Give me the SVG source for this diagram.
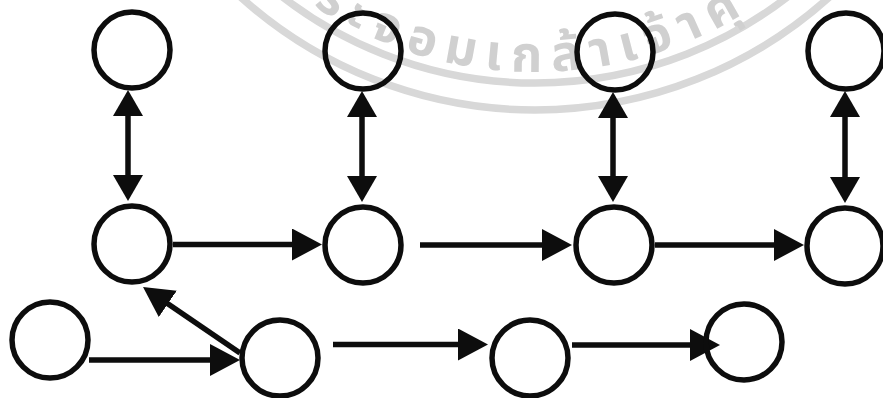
<svg xmlns="http://www.w3.org/2000/svg" width="883" height="398" viewBox="0 0 883 398">
  <style>
    .node { fill: none; stroke: #0d0d0d; stroke-width: 5.5; }
    .edge { fill: none; stroke: #0d0d0d; stroke-width: 5.5; }
    .seal { fill: none; stroke: #d8d8d8; stroke-width: 7.5; }
    .seal-text { fill: #d0d0d0; font-family: "Noto Sans Thai", "Noto Sans", "DejaVu Sans", sans-serif; font-size: 50px; font-weight: bold; letter-spacing: 10px; }
  </style>
  <defs>
    <!-- horizontal / diagonal arrowhead: 30 long, 32 wide -->
    <marker id="ah" markerUnits="userSpaceOnUse" viewBox="0 0 30 32" markerWidth="30" markerHeight="32" refX="4" refY="16" orient="auto-start-reverse">
      <path d="M0,0 L30,16 L0,32 Z" fill="#0d0d0d"/>
    </marker>
    <!-- vertical arrowhead: 26 long, 30 wide -->
    <marker id="av" markerUnits="userSpaceOnUse" viewBox="0 0 26 30" markerWidth="26" markerHeight="30" refX="4" refY="15" orient="auto-start-reverse">
      <path d="M0,0 L26,15 L0,30 Z" fill="#0d0d0d"/>
    </marker>
    <path id="sealArc" d="M227.1,-71.6 A402,402 0 0 0 912.8,-192.5"/>
  </defs>

  <!-- faint seal in the background -->
  <g id="seal">
    <circle class="seal" cx="535" cy="-330" r="440"/>
    <circle class="seal" cx="535" cy="-330" r="413"/>
    <text class="seal-text"><textPath href="#sealArc" startOffset="116">ระจอมเกล้าเจ้าคุ</textPath></text>
  </g>

  <g id="connectors">
    <!-- vertical two-way links -->
    <line class="edge" x1="128" y1="112" x2="128" y2="179" marker-start="url(#av)" marker-end="url(#av)"/>
    <line class="edge" x1="362" y1="113" x2="362" y2="180" marker-start="url(#av)" marker-end="url(#av)"/>
    <line class="edge" x1="613" y1="114" x2="613" y2="180" marker-start="url(#av)" marker-end="url(#av)"/>
    <line class="edge" x1="845" y1="113" x2="845" y2="181" marker-start="url(#av)" marker-end="url(#av)"/>
    <!-- middle row -->
    <line class="edge" x1="173" y1="244.5" x2="296" y2="244.5" marker-end="url(#ah)"/>
    <line class="edge" x1="420" y1="245" x2="546" y2="245" marker-end="url(#ah)"/>
    <line class="edge" x1="655" y1="245" x2="778" y2="245" marker-end="url(#ah)"/>
    <!-- bottom row -->
    <line class="edge" x1="89" y1="360" x2="214" y2="360" marker-end="url(#ah)"/>
    <line class="edge" x1="240" y1="353" x2="164.5" y2="301.6" marker-end="url(#ah)"/>
    <line class="edge" x1="333" y1="344.5" x2="462" y2="344.5" marker-end="url(#ah)"/>
    <line class="edge" x1="572" y1="345" x2="694" y2="345" marker-end="url(#ah)"/>
  </g>

  <g id="t1"><circle class="node" cx="132" cy="50" r="38"/></g>
  <g id="t2"><circle class="node" cx="363" cy="51" r="38"/></g>
  <g id="t3"><circle class="node" cx="615" cy="52" r="38"/></g>
  <g id="t4"><circle class="node" cx="846" cy="51" r="38"/></g>

  <g id="m1"><circle class="node" cx="132" cy="244" r="38"/></g>
  <g id="m2"><circle class="node" cx="363" cy="245" r="38"/></g>
  <g id="m3"><circle class="node" cx="614" cy="245" r="38"/></g>
  <g id="m4"><circle class="node" cx="845" cy="246" r="38"/></g>

  <g id="b1"><circle class="node" cx="50" cy="340" r="38"/></g>
  <g id="b2"><circle class="node" cx="280" cy="358" r="38"/></g>
  <g id="b3"><circle class="node" cx="530" cy="358" r="38"/></g>
  <g id="b4"><circle class="node" cx="744" cy="342" r="38"/></g>
</svg>
